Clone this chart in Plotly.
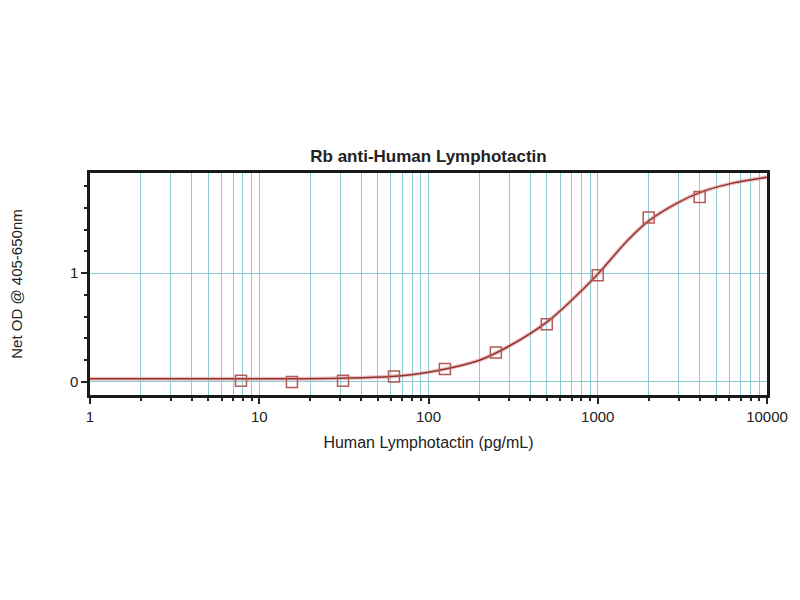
import plotly.graph_objects as go

# standard points (pg/mL) and net OD
conc = [7.8, 15.6, 31.25, 62.5, 125, 250, 500, 1000, 2000, 4000]
od = [0.01, 0.0, 0.01, 0.05, 0.12, 0.27, 0.53, 0.98, 1.51, 1.70]

# fitted curve
curve_x = [1, 3, 10, 30, 60, 100, 200, 300, 500, 700, 1000, 1500, 2000, 3000, 4000, 6000, 10000]
curve_y = [0.03, 0.03, 0.03, 0.035, 0.05, 0.09, 0.2, 0.33, 0.55, 0.75, 0.99, 1.3, 1.48, 1.65, 1.74, 1.82, 1.88]

x_major = [1, 10, 100, 1000, 10000]
x_minor = [m * d for d in [1, 10, 100, 1000] for m in range(2, 10)]

grid_col = "#8fcbd2"
font = "Liberation Sans, Arial, sans-serif"

fig = go.Figure()

# pale halo under the curve
fig.add_trace(go.Scatter(x=curve_x, y=curve_y, mode="lines", line_shape="spline",
                         line=dict(color="rgba(230,150,150,0.6)", width=4),
                         hoverinfo="skip", showlegend=False))
fig.add_trace(go.Scatter(x=curve_x, y=curve_y, mode="lines", line_shape="spline",
                         line=dict(color="#8b3434", width=1.5), showlegend=False))
fig.add_trace(go.Scatter(x=conc, y=od, mode="markers",
                         marker=dict(symbol="square-open", size=11, color="#b45a56",
                                     line=dict(width=1.5)),
                         showlegend=False))

# page body adds ~8px, margins are set to land the plot box where the reference has it
fig.update_layout(
    width=800, height=600,
    paper_bgcolor="white", plot_bgcolor="white",
    margin=dict(l=82, r=41, t=165, b=213),
    font=dict(family=font, size=15, color="#222"),
    title=dict(text="<b>Rb anti-Human Lymphotactin</b>",
               xref="container", x=((90 + 767) / 2 - 8) / 800, xanchor="center",
               y=1 - 148 / 600, yanchor="middle", font=dict(size=17)),
)

fig.update_xaxes(
    type="log", range=[0, 4], automargin=False,
    tickmode="array", tickvals=x_major, ticktext=[str(v) for v in x_major],
    ticks="outside", ticklen=6, tickwidth=1.5, tickcolor="#222",
    tickfont=dict(size=15),
    showgrid=True, gridcolor=grid_col, gridwidth=1.2,
    minor=dict(tickmode="array", tickvals=x_minor, ticks="outside", ticklen=3,
               tickcolor="#222", showgrid=True, gridcolor=grid_col, gridwidth=1.2),
    showline=True, linecolor="#1a1a1a", linewidth=2.5, mirror=True,
    zeroline=False,
    title=dict(text="Human Lymphotactin (pg/mL)", standoff=14, font=dict(size=16)),
)

fig.update_yaxes(
    range=[-0.12, 1.92], automargin=False,
    tickmode="array", tickvals=[0, 1],
    ticks="outside", ticklen=6, tickwidth=1.5, tickcolor="#222",
    tickfont=dict(size=15),
    showgrid=True, gridcolor=grid_col, gridwidth=1.2,
    minor=dict(tickmode="linear", dtick=0.2, tick0=0, ticks="outside", ticklen=3,
               tickcolor="#222", showgrid=False),
    showline=True, linecolor="#1a1a1a", linewidth=2.5, mirror=True,
    zeroline=False,
    title=dict(text="Net OD @ 405-650nm", standoff=47, font=dict(size=15)),
)

fig.write_html("out.html")
